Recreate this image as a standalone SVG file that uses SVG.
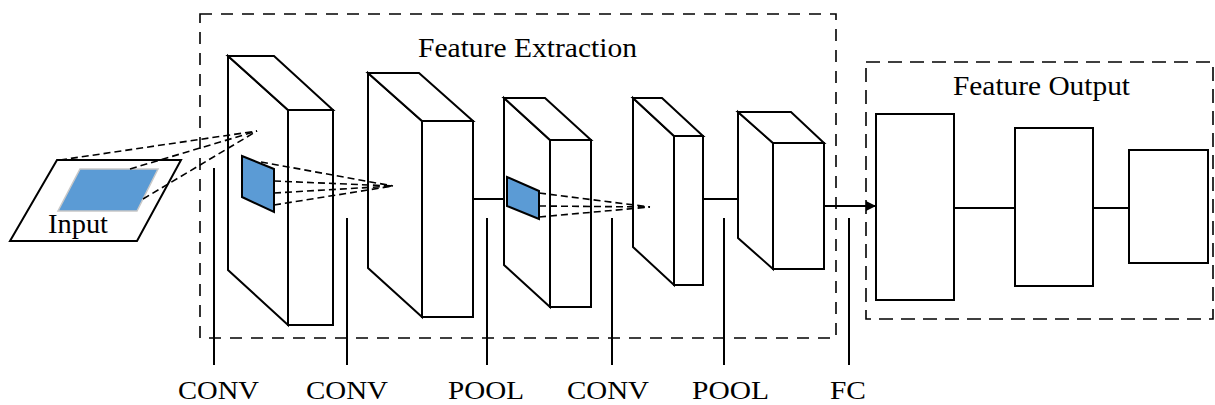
<svg xmlns="http://www.w3.org/2000/svg" width="1215" height="405" viewBox="0 0 1215 405">
  <defs>
    <style>
      .solid { fill: #ffffff; stroke: #000000; stroke-width: 2; stroke-linejoin: miter; }
      .patch { fill: #5b9bd5; stroke: #000000; stroke-width: 2; }
      .frame-a { fill: none; stroke: #000000; stroke-width: 1.6; stroke-dasharray: 12 9; }
      .frame-b { fill: none; stroke: #000000; stroke-width: 1.6; stroke-dasharray: 14 8; }
      .ray { fill: none; stroke: #000000; stroke-width: 1.6; stroke-dasharray: 7 4; }
      .wire { fill: none; stroke: #000000; stroke-width: 2; }
      .label { font-family: "Liberation Serif", "Times New Roman", serif; font-size: 27px; fill: #000000; }
      .tag { font-family: "Liberation Serif", "Times New Roman", serif; font-size: 26px; fill: #000000; }
    </style>
    <marker id="arrowhead" viewBox="0 0 10 10" refX="9" refY="5" markerWidth="5" markerHeight="5" orient="auto" markerUnits="strokeWidth">
      <path d="M0,0 L10,5 L0,10 z" fill="#000000"/>
    </marker>
  </defs>

  <rect width="1215" height="405" fill="#ffffff"/>

  <!-- stage frames -->
  <g id="feature-extraction">
    <rect class="frame-a" x="200" y="14" width="636" height="324"/>
    <text class="label" x="418" y="57" textLength="219" lengthAdjust="spacingAndGlyphs">Feature Extraction</text>
  </g>
  <g id="feature-output">
    <rect class="frame-b" x="866" y="62" width="347" height="257"/>
    <text class="label" x="953" y="95" textLength="177" lengthAdjust="spacingAndGlyphs">Feature Output</text>
  </g>

  <!-- input image -->
  <g id="input">
    <polygon class="solid" points="57,160 181,160 137,241 10,241"/>
    <polygon points="80,169 158,169 137,211 58,211" fill="#5b9bd5" stroke="#c8c8c8" stroke-width="1.5"/>
    <text class="label" x="48" y="233" textLength="60" lengthAdjust="spacingAndGlyphs">Input</text>
  </g>

  <!-- layer blocks: side face, top face, front face -->
  <g id="conv1">
    <polygon class="solid" points="228,56 288,110 288,325 228,270"/>
    <polygon class="solid" points="228,56 274,56 333,110 288,110"/>
    <rect class="solid" x="288" y="110" width="45" height="215"/>
    <polygon class="patch" points="242,156 274,169 274,212 242,197"/>
  </g>
  <g id="conv2">
    <polygon class="solid" points="368,73 422,121 422,317 368,268"/>
    <polygon class="solid" points="368,73 419,73 473,121 422,121"/>
    <rect class="solid" x="422" y="121" width="51" height="196"/>
  </g>
  <g id="pool1">
    <polygon class="solid" points="504,98 550,140 550,307 504,265"/>
    <polygon class="solid" points="504,98 545,98 591,140 550,140"/>
    <rect class="solid" x="550" y="140" width="41" height="167"/>
    <polygon class="patch" points="507,177 539,191 539,219 507,206"/>
  </g>
  <g id="conv3">
    <polygon class="solid" points="633,98 674,136 674,285 633,247"/>
    <polygon class="solid" points="633,98 662,98 703,136 674,136"/>
    <rect class="solid" x="674" y="136" width="29" height="149"/>
  </g>
  <g id="pool2">
    <polygon class="solid" points="738,112 773,143 773,269 738,238"/>
    <polygon class="solid" points="738,112 791,112 824,143 773,143"/>
    <rect class="solid" x="773" y="143" width="51" height="126"/>
  </g>

  <!-- fully connected layers -->
  <g id="fc1"><rect class="solid" x="876" y="114" width="78" height="186"/></g>
  <g id="fc2"><rect class="solid" x="1015" y="128" width="78" height="158"/></g>
  <g id="fc3"><rect class="solid" x="1129" y="150" width="79" height="113"/></g>

  <!-- connectors -->
  <g id="connectors">
    <!-- receptive-field rays -->
    <line class="ray" x1="60" y1="160" x2="257" y2="131"/>
    <line class="ray" x1="130" y1="169" x2="257" y2="131"/>
    <line class="ray" x1="143" y1="199" x2="257" y2="131"/>

    <line class="ray" x1="261" y1="162" x2="393" y2="186"/>
    <line class="ray" x1="274" y1="181" x2="393" y2="186"/>
    <line class="ray" x1="274" y1="193" x2="393" y2="186"/>
    <line class="ray" x1="274" y1="205" x2="393" y2="186"/>

    <line class="ray" x1="539" y1="193" x2="650" y2="207"/>
    <line class="ray" x1="539" y1="206" x2="650" y2="207"/>
    <line class="ray" x1="539" y1="217" x2="650" y2="207"/>

    <!-- links between blocks -->
    <line class="wire" x1="473" y1="199" x2="504" y2="199"/>
    <line class="wire" x1="703" y1="199" x2="738" y2="199"/>
    <line class="wire" x1="824" y1="206" x2="875" y2="206" marker-end="url(#arrowhead)"/>
    <line class="wire" x1="954" y1="208" x2="1015" y2="208"/>
    <line class="wire" x1="1093" y1="208" x2="1129" y2="208"/>

    <!-- layer type markers -->
    <line class="wire" x1="214" y1="168" x2="214" y2="365"/>
    <line class="wire" x1="347" y1="218" x2="347" y2="365"/>
    <line class="wire" x1="487" y1="218" x2="487" y2="365"/>
    <line class="wire" x1="612" y1="218" x2="612" y2="365"/>
    <line class="wire" x1="724" y1="218" x2="724" y2="365"/>
    <line class="wire" x1="849" y1="218" x2="849" y2="365"/>
  </g>

  <!-- layer type labels -->
  <g id="layer-labels">
    <text class="tag" x="178" y="399" textLength="81" lengthAdjust="spacingAndGlyphs">CONV</text>
    <text class="tag" x="306" y="399" textLength="82" lengthAdjust="spacingAndGlyphs">CONV</text>
    <text class="tag" x="448" y="399" textLength="76" lengthAdjust="spacingAndGlyphs">POOL</text>
    <text class="tag" x="567" y="399" textLength="82" lengthAdjust="spacingAndGlyphs">CONV</text>
    <text class="tag" x="692" y="399" textLength="77" lengthAdjust="spacingAndGlyphs">POOL</text>
    <text class="tag" x="830" y="399" textLength="36" lengthAdjust="spacingAndGlyphs">FC</text>
  </g>
</svg>
